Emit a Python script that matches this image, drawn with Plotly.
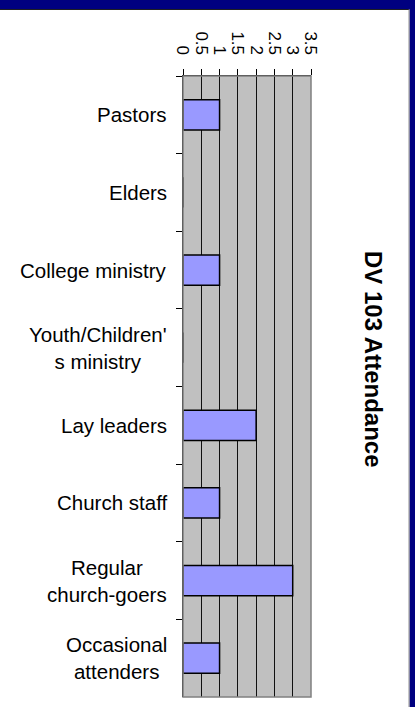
import plotly.graph_objects as go

# ---- data ----
categories = ["Pastors", "Elders", "College ministry", "Youth/Children's ministry",
              "Lay leaders", "Church staff", "Regular church-goers", "Occasional attenders"]
category_labels = ["Pastors", "Elders", "College ministry", "Youth/Children'<br>s ministry",
                   "Lay leaders", "Church staff", "Regular<br>church-goers", "Occasional<br>attenders"]
attendance = [1, 0, 1, 0, 2, 1, 3, 1]
x_tick_vals = [0, 0.5, 1, 1.5, 2, 2.5, 3, 3.5]
x_tick_text = ["0", "0.5", "1", "1.5", "2", "2.5", "3", "3.5"]
title_text = "DV 103 Attendance"

# ---- layout geometry (pixels) ----
W, H = 415, 707
L, R, T, B = 183, 311, 76, 697
pw, ph = R - L, B - T


def px_x(p):
    return (p - L) / pw


def px_y(p):
    return (B - p) / ph


FONT = "Liberation Sans, Arial, sans-serif"

fig = go.Figure()
fig.add_trace(go.Bar(
    y=categories, x=attendance, orientation="h",
    marker=dict(color="#9999FF", line=dict(color="black", width=1.5)),
    width=0.39, showlegend=False, hoverinfo="x+y",
))

shapes = [
    # plot border
    dict(type="rect", xref="paper", yref="paper", x0=0, x1=1, y0=0, y1=1,
         line=dict(color="#808080", width=1.5), layer="above"),
    # navy top band
    dict(type="rect", xref="paper", yref="paper", x0=px_x(-5), x1=px_x(W + 5),
         y0=px_y(9.5), y1=px_y(-5), line=dict(width=0), fillcolor="#000080", layer="above"),
    dict(type="line", xref="paper", yref="paper", x0=px_x(0), x1=px_x(409),
         y0=px_y(9.5), y1=px_y(9.5), line=dict(color="#202020", width=1), layer="above"),
    # navy right band
    dict(type="rect", xref="paper", yref="paper", x0=px_x(409.5), x1=px_x(W + 5),
         y0=px_y(H + 5), y1=px_y(-5), line=dict(width=0), fillcolor="#000080", layer="above"),
    dict(type="line", xref="paper", yref="paper", x0=px_x(409), x1=px_x(409),
         y0=px_y(9.5), y1=px_y(H + 5), line=dict(color="#909090", width=1), layer="above"),
]

annotations = [
    dict(text=f"<b>{title_text}</b>", xref="paper", yref="paper",
         x=px_x(374), y=px_y(359), xanchor="center", yanchor="middle",
         textangle=90, showarrow=False, font=dict(family=FONT, size=24, color="black")),
]
for cat, lab in zip(categories, category_labels):
    annotations.append(dict(
        text=lab, xref="paper", yref="y", x=px_x(169), y=cat,
        xanchor="right", yanchor="middle", align="center", showarrow=False,
        font=dict(family=FONT, size=20.5, color="black"),
    ))

fig.update_layout(
    width=W, height=H, autosize=False,
    margin=dict(l=L, r=W - R, t=T, b=H - B, pad=0),
    paper_bgcolor="white", plot_bgcolor="#C0C0C0",
    bargap=0.6,
    shapes=shapes, annotations=annotations,
    xaxis=dict(
        side="top", range=[0, 3.5], tickvals=x_tick_vals, ticktext=x_tick_text,
        tickangle=90, ticks="outside", ticklen=6, tickcolor="black", tickwidth=1,
        ticklabelstandoff=8,
        showgrid=True, gridcolor="#101010", gridwidth=1.2,
        showline=True, linecolor="black", linewidth=1,
        zeroline=False, fixedrange=True,
        tickfont=dict(family=FONT, size=17, color="black"),
    ),
    yaxis=dict(
        categoryorder="array", categoryarray=categories, autorange="reversed",
        showticklabels=False, ticks="outside", ticklen=6, tickcolor="black",
        tickson="boundaries", showgrid=False,
        showline=True, linecolor="black", linewidth=1, fixedrange=True,
    ),
)

fig.write_html(
    "out.html",
    config={"displayModeBar": False},
    post_script="document.body.style.margin='0';document.body.style.overflow='hidden';",
)
